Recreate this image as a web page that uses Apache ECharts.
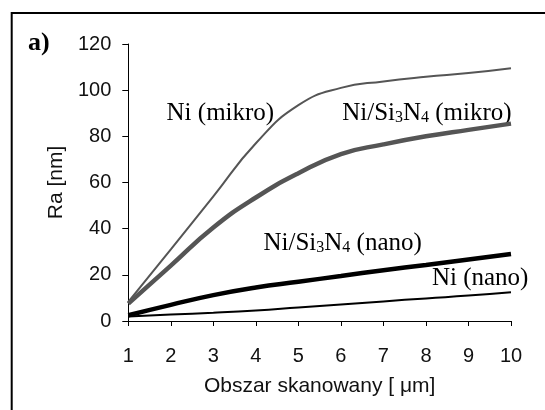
<!DOCTYPE html>
<html><head><meta charset="utf-8">
<script src="https://cdn.jsdelivr.net/npm/echarts@6/dist/echarts.min.js"></script>
<style>html,body{margin:0;padding:0;background:#fff}#c{width:545px;height:410px}</style>
</head><body><div id="c"></div>
<script>
const xValues   = [1, 2, 3, 4, 5, 6, 7, 8, 9, 10];
const niMikro   = [8.3, 31, 54, 77, 93.5, 101, 103.8, 105.8, 107.4, 109.5];
const niSiMikro = [7.5, 24, 40.5, 53.5, 64, 72.3, 76.5, 80, 82.8, 85.5];
const niSiNano  = [2.5, 7, 11.2, 14.5, 17, 19.5, 22, 24.3, 26.6, 29];
const niNano    = [2, 2.8, 3.6, 4.6, 5.9, 7.2, 8.5, 9.8, 11, 12.5];
const xTicks = {min: 1, max: 10, interval: 1};
const yTicks = {min: 0, max: 120, interval: 20};
const xTitle = 'Obszar skanowany [ μm]';
const yTitle = 'Ra [nm]';
// annotation labels: [text, x(data), baseline y(data)]
const notes = [
  ['Ni (mikro)', 1.9, 86.3],
  ['Ni/Si{s|3}N{s|4} (mikro)', 6.03, 86.5],
  ['Ni/Si{s|3}N{s|4} (nano)', 4.18, 30.0],
  ['Ni (nano)', 8.14, 14.8]
];

const pairs = a => xValues.map((x, i) => [x, a[i]]);
const chart = echarts.init(document.getElementById('c'), null, {renderer: 'canvas'});
const axisFont = {fontFamily: 'Liberation Sans, Arial, sans-serif', fontSize: 20, color: '#111'};
const titleFont = {fontFamily: 'Liberation Sans, Arial, sans-serif', fontSize: 21, color: '#111'};
const serif = 'Liberation Serif, Times New Roman, serif';

chart.setOption({
  animation: false,
  backgroundColor: '#fff',
  grid: {left: 128.3, right: 34, top: 44, bottom: 89},
  xAxis: {
    type: 'value', min: xTicks.min, max: xTicks.max, interval: xTicks.interval,
    name: xTitle, nameLocation: 'middle', nameGap: 55,
    nameTextStyle: titleFont,
    axisLine: {lineStyle: {color: '#000', width: 1}},
    axisTick: {show: true, length: 5, inside: false, lineStyle: {color: '#000'}},
    axisLabel: Object.assign({margin: 25}, axisFont),
    splitLine: {show: false}
  },
  yAxis: {
    type: 'value', min: yTicks.min, max: yTicks.max, interval: yTicks.interval,
    name: yTitle, nameLocation: 'middle', nameGap: 62,
    nameTextStyle: titleFont,
    axisLine: {show: true, lineStyle: {color: '#000', width: 1}},
    axisTick: {show: true, length: 6, inside: false, lineStyle: {color: '#000'}},
    axisLabel: Object.assign({margin: 17}, axisFont),
    splitLine: {show: false}
  },
  series: [
    {name: 'Ni (mikro)', type: 'line', smooth: 0.5, showSymbol: false, data: pairs(niMikro),
     lineStyle: {color: '#555', width: 2}},
    {name: 'Ni/Si3N4 (mikro)', type: 'line', smooth: 0.5, showSymbol: false, data: pairs(niSiMikro),
     lineStyle: {color: '#555', width: 4.5}},
    {name: 'Ni/Si3N4 (nano)', type: 'line', smooth: 0.5, showSymbol: false, data: pairs(niSiNano),
     lineStyle: {color: '#000', width: 4.5}},
    {name: 'Ni (nano)', type: 'line', smooth: 0.5, showSymbol: false, data: pairs(niNano),
     lineStyle: {color: '#000', width: 2}}
  ]
});

const graphics = [
  {type: 'rect', shape: {x: 11.7, y: 13, width: 700, height: 700},
   style: {fill: 'none', stroke: '#000', lineWidth: 2}, silent: true},
  {type: 'text', x: 28, y: 43, style: {text: 'a)', font: 'bold 26px ' + serif, fill: '#000',
   align: 'left', verticalAlign: 'middle'}}
];
notes.forEach(n => {
  const p = chart.convertToPixel({gridIndex: 0}, [n[1], n[2]]);
  graphics.push({type: 'text', x: p[0], y: p[1] - 8, style: {
    text: n[0], fill: '#000', align: 'left', verticalAlign: 'middle',
    fontFamily: serif, fontSize: 25,
    rich: {s: {fontFamily: serif, fontSize: 16, verticalAlign: 'bottom', fill: '#000'}}
  }});
});
chart.setOption({graphic: graphics});
</script></body></html>
